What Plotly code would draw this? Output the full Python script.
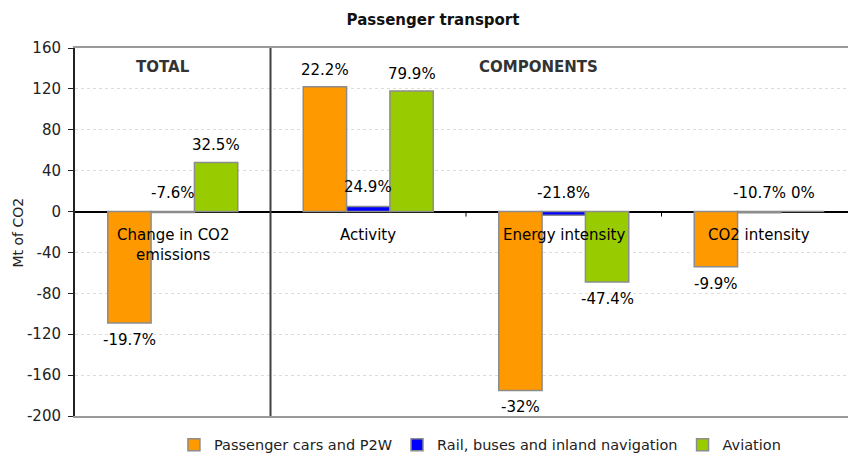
import plotly.graph_objects as go

# Decomposition of the change in passenger-transport CO2 emissions (Mt of CO2)
categories = ["Change in CO2<br>emissions", "Activity", "Energy intensity", "CO2 intensity"]
series_names = ["Passenger cars and P2W", "Rail, buses and inland navigation", "Aviation"]
cars_values = [-109, 122, -175, -54]
rail_values = [-1.0, 5, -3.5, -1.2]
aviation_values = [48, 118, -69, 0]
cars_labels = ["-19.7%", "22.2%", "-32%", "-9.9%"]
rail_labels = ["-7.6%", "24.9%", "-21.8%", "-10.7%"]
aviation_labels = ["32.5%", "79.9%", "-47.4%", "0%"]
section_titles = ["TOTAL", "COMPONENTS"]
y_ticks = [-200, -160, -120, -80, -40, 0, 40, 80, 120, 160]

colors = ["#FF9900", "#0000FF", "#99CC00"]
FONT = "DejaVu Sans, Arial, sans-serif"
BAR_GAP = 0.335
bar_w = (1 - BAR_GAP) / 3

fig = go.Figure()
all_values = [cars_values, rail_values, aviation_values]
all_labels = [cars_labels, rail_labels, aviation_labels]
idx = list(range(len(categories)))

for name, vals, col in zip(series_names, all_values, colors):
    fig.add_trace(go.Bar(
        x=idx, y=vals, name=name,
        marker=dict(color=col, line=dict(color="#8c8c8c", width=1.5)),
        hoverinfo="skip",
    ))

annotations = []
# value labels above / below each bar
for k, (vals, labs) in enumerate(zip(all_values, all_labels)):
    off = (k - 1) * bar_w
    for i, (v, lab) in enumerate(zip(vals, labs)):
        if v < -10:
            y, shift = v, -17
        elif v > 10:
            y, shift = v, 17
        else:
            y, shift = max(v, 0), 19
        annotations.append(dict(
            x=i + off, y=y, xref="x", yref="y", text=lab, showarrow=False,
            xanchor="center", yanchor="middle", yshift=shift,
            font=dict(family=FONT, size=15, color="#000000"),
        ))

# category names written just below the zero line
for i, c in enumerate(categories):
    annotations.append(dict(
        x=i, y=0, xref="x", yref="y", text=c, showarrow=False,
        xanchor="center", yanchor="top", yshift=-12,
        font=dict(family=FONT, size=15, color="#000000"),
    ))

# section headings
for txt, xp in zip(section_titles, (0.1138, 0.600)):
    annotations.append(dict(x=xp, y=0.948, xref="paper", yref="paper",
                            xanchor="center", yanchor="middle",
                            text="<b>%s</b>" % txt, showarrow=False,
                            font=dict(family=FONT, size=15, color="#333333")))

# y-axis title
annotations.append(dict(x=-57.5 / 773, y=0.5, xref="paper", yref="paper",
                        xanchor="center", yanchor="middle", textangle=-90,
                        text="Mt of CO2", showarrow=False,
                        font=dict(family=FONT, size=14, color="#222222")))

shapes = [
    # divider between total and components
    dict(type="line", xref="x", yref="paper", x0=0.5, x1=0.5, y0=0, y1=1,
         line=dict(color="#404040", width=2)),
]
for bx in (1.5, 2.5):
    shapes.append(dict(type="line", xref="x", yref="y", ysizemode="pixel",
                       yanchor=0, x0=bx, x1=bx, y0=0, y1=-5,
                       line=dict(color="#000000", width=1)))

fig.update_layout(
    width=848, height=455,
    margin=dict(l=75, r=0, t=48, b=39, autoexpand=False),
    paper_bgcolor="white", plot_bgcolor="white",
    barmode="group", bargap=BAR_GAP, bargroupgap=0,
    title=dict(text="<b>Passenger transport</b>", x=433 / 848, y=1 - 20 / 455,
               xanchor="center", yanchor="middle",
               font=dict(family=FONT, size=15, color="#111111")),
    font=dict(family=FONT, size=15, color="#222222"),
    showlegend=True,
    legend=dict(orientation="h", x=0.128, xanchor="left", y=-0.078, yanchor="middle",
                font=dict(family=FONT, size=14.5, color="#222222"),
                bgcolor="rgba(0,0,0,0)", traceorder="normal",
                tracegroupgap=0, valign="middle"),
    annotations=annotations,
    shapes=shapes,
    hovermode=False,
)

fig.update_xaxes(
    range=[-0.5, 3.5 - 9 / 195.5], showticklabels=False, ticks="",
    showgrid=False, zeroline=False,
    showline=True, linecolor="#9a9a9a", linewidth=1.5, mirror=True,
    fixedrange=True,
)
fig.update_yaxes(
    range=[-200, 160], tickvals=y_ticks, ticktext=[str(v) for v in y_ticks],
    ticks="outside", ticklen=5,
    tickcolor="#222222", tickwidth=1, ticklabelstandoff=4,
    tickfont=dict(family=FONT, size=15, color="#222222"),
    showgrid=True, gridcolor="#dcdcdc", griddash="dot", gridwidth=1,
    zeroline=True, zerolinecolor="#000000", zerolinewidth=1.5,
    showline=True, linecolor="#222222", linewidth=2,
    fixedrange=True,
)

fig.write_html("out.html")
